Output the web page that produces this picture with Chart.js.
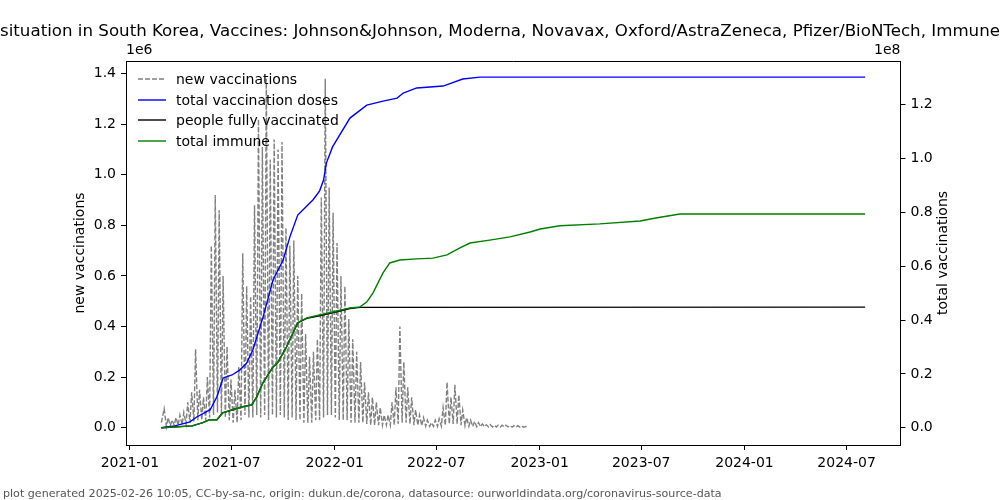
<!DOCTYPE html>
<html>
<head>
<meta charset="utf-8">
<style>
  html, body { margin: 0; padding: 0; background: #fff; }
  #wrap { width: 1000px; height: 500px; }
</style>
<script src="https://cdn.jsdelivr.net/npm/chart.js@4.4.1/dist/chart.umd.min.js"></script>
</head>
<body>
<div id="wrap"><canvas id="chart" width="1000" height="500"></canvas></div>
<script>
// ─── texts ──────────────────────────────────────────────────────────────────
const TITLE = 'situation in South Korea, Vaccines: Johnson&Johnson, Moderna, Novavax, Oxford/AstraZeneca, Pfizer/BioNTech, Immune';
const FOOTER = 'plot generated 2025-02-26 10:05, CC-by-sa-nc, origin: dukun.de/corona, datasource: ourworldindata.org/coronavirus-source-data';
const LABELS = ['new vaccinations', 'total vaccination doses', 'people fully vaccinated', 'total immune'];

// ─── ticks ──────────────────────────────────────────────────────────────────
const X_TICKS = ['2021-01', '2021-07', '2022-01', '2022-07', '2023-01', '2023-07', '2024-01', '2024-07'];
const LEFT_TICKS = [0, 0.2, 0.4, 0.6, 0.8, 1.0, 1.2, 1.4];   // x 1e6
const RIGHT_TICKS = [0, 0.2, 0.4, 0.6, 0.8, 1.0, 1.2];        // x 1e8

// ─── new vaccinations (x 1e6), one weekday high and one weekend low per week ─
const NEW_FIRST = ['2021-02-26', 0.02];
const NEW_WEEK_START = '2021-03-01';
const NEW_PEAK = [
  0.075, 0.04, 0.03, 0.04, 0.05, 0.06, 0.10, 0.14, 0.31, 0.15,
  0.12, 0.20, 0.72, 0.92, 0.86, 0.60, 0.32, 0.19, 0.15, 0.24,
  0.69, 0.56, 0.52, 0.88, 1.22, 1.11, 1.38, 1.06, 1.14, 1.10,
  1.13, 0.79, 0.72, 0.74, 0.60, 0.53, 0.37, 0.28, 0.30, 0.35,
  0.91, 1.38, 0.95, 0.85, 0.73, 0.60, 0.56, 0.43, 0.35, 0.30,
  0.26, 0.18, 0.14, 0.12, 0.10, 0.08, 0.05, 0.05, 0.10, 0.16,
  0.40, 0.26, 0.16, 0.12, 0.07, 0.05, 0.04, 0.03, 0.02, 0.03,
  0.035, 0.08, 0.18, 0.12, 0.17, 0.13, 0.07, 0.04, 0.03, 0.025,
  0.02, 0.015, 0.012, 0.012, 0.01, 0.01, 0.01, 0.01, 0.008, 0.008,
  0.008, 0.006, 0.005,
];
const NEW_LOW = [
  0.005, 0.008, 0.01, 0.01, 0.012, 0.015, 0.02, 0.025, 0.03, 0.03,
  0.03, 0.04, 0.05, 0.06, 0.05, 0.04, 0.03, 0.02, 0.02, 0.03,
  0.05, 0.04, 0.04, 0.05, 0.04, 0.05, 0.03, 0.05, 0.04, 0.05,
  0.04, 0.03, 0.04, 0.03, 0.03, 0.02, 0.02, 0.02, 0.03, 0.03,
  0.04, 0.05, 0.05, 0.04, 0.03, 0.03, 0.03, 0.02, 0.02, 0.02,
  0.02, 0.015, 0.01, 0.01, 0.01, 0.01, 0.01, 0.01, 0.01, 0.015,
  0.02, 0.02, 0.015, 0.01, 0.01, 0.008, 0.006, 0.005, 0.005, 0.005,
  0.006, 0.01, 0.015, 0.015, 0.015, 0.01, 0.008, 0.006, 0.005, 0.004,
  0.004, 0.004, 0.003, 0.003, 0.003, 0.003, 0.003, 0.003, 0.002, 0.002,
  0.002, 0.002, 0.002,
];

// ─── totals (x 1e8) ─────────────────────────────────────────────────────────
const DOSES_DATES = [
  '2021-02-26', '2021-03-22', '2021-04-18', '2021-04-30', '2021-05-24', '2021-06-05',
  '2021-06-16', '2021-07-02', '2021-07-16', '2021-07-28', '2021-08-08', '2021-08-26',
  '2021-09-13', '2021-10-01', '2021-10-13', '2021-10-27', '2021-11-23', '2021-12-05',
  '2021-12-12', '2021-12-17', '2021-12-28', '2022-01-28', '2022-02-27', '2022-03-28',
  '2022-04-22', '2022-05-03', '2022-05-27', '2022-07-13', '2022-08-17', '2022-09-17',
  '2023-03-13', '2024-08-03',
];
const DOSES = [
  0, 0.007, 0.022, 0.04, 0.067, 0.115,
  0.185, 0.196, 0.215, 0.24, 0.289, 0.41,
  0.549, 0.623, 0.709, 0.79, 0.846, 0.88,
  0.92, 0.983, 1.043, 1.15, 1.198, 1.213,
  1.224, 1.243, 1.262, 1.269, 1.295, 1.302,
  1.302, 1.302,
];

const IMMUNE_DATES = [
  '2021-02-26', '2021-04-22', '2021-05-11', '2021-05-23', '2021-06-05', '2021-06-15',
  '2021-07-03', '2021-07-21', '2021-08-06', '2021-08-15', '2021-08-26', '2021-09-13',
  '2021-09-21', '2021-10-07', '2021-10-27', '2021-11-12', '2021-12-05', '2021-12-28',
  '2022-01-28', '2022-02-15', '2022-02-27', '2022-03-10', '2022-03-19', '2022-03-28',
  '2022-04-09', '2022-04-27', '2022-05-27', '2022-06-25', '2022-07-20', '2022-08-12',
  '2022-08-30', '2022-10-04', '2022-11-09', '2022-12-15', '2023-01-02', '2023-02-06',
  '2023-04-18', '2023-06-29', '2023-07-27', '2023-09-08', '2024-08-03',
];
const IMMUNE = [
  0, 0.007, 0.019, 0.03, 0.03, 0.055,
  0.067, 0.078, 0.085, 0.115, 0.167, 0.226,
  0.241, 0.30, 0.39, 0.408, 0.419, 0.43,
  0.445, 0.449, 0.467, 0.50, 0.538, 0.575,
  0.612, 0.623, 0.627, 0.63, 0.642, 0.668,
  0.686, 0.697, 0.709, 0.727, 0.738, 0.75,
  0.757, 0.768, 0.779, 0.794, 0.794,
];

const FULLY_DATES = [
  '2021-02-26', '2021-04-22', '2021-05-11', '2021-05-23', '2021-06-05', '2021-06-15',
  '2021-07-03', '2021-07-21', '2021-08-06', '2021-08-15', '2021-08-26', '2021-09-13',
  '2021-09-21', '2021-10-07', '2021-10-27', '2021-11-12', '2021-12-05', '2021-12-28',
  '2022-01-28', '2022-02-15', '2024-08-03',
];
const FULLY = [
  0, 0.007, 0.019, 0.03, 0.03, 0.055,
  0.067, 0.078, 0.085, 0.115, 0.167, 0.226,
  0.241, 0.30, 0.39, 0.406, 0.416, 0.427,
  0.443, 0.447, 0.448,
];

// ─── build points ───────────────────────────────────────────────────────────
const DAY = 86400000;

function pts(dates, values) {
  return dates.map((d, i) => ({ x: Date.parse(d), y: values[i] }));
}

const newPoints = [{ x: Date.parse(NEW_FIRST[0]), y: NEW_FIRST[1] }];
const wk0 = Date.parse(NEW_WEEK_START);
NEW_PEAK.forEach((v, k) => {
  newPoints.push({ x: wk0 + (7 * k + 2) * DAY, y: v });
  newPoints.push({ x: wk0 + (7 * k + 6) * DAY, y: NEW_LOW[k] });
});

const COLORS = ['gray', 'blue', 'black', 'green'];

// ─── decorations: title, footer, axis titles, offsets, legend, top spine ────
const decor = {
  id: 'decor',
  afterDraw(chart) {
    const { ctx, chartArea: a } = chart;
    ctx.save();

    ctx.strokeStyle = '#000';
    ctx.lineWidth = 1;
    ctx.beginPath();
    ctx.moveTo(a.left, Math.round(a.top) + 0.5);
    ctx.lineTo(a.right, Math.round(a.top) + 0.5);
    ctx.stroke();

    ctx.fillStyle = '#000';
    ctx.textBaseline = 'middle';

    ctx.font = "16.67px 'DejaVu Sans'";
    ctx.textAlign = 'center';
    ctx.fillText(TITLE, 500, 32);

    ctx.font = "14px 'DejaVu Sans'";
    ctx.textAlign = 'left';
    ctx.fillText('1e6', a.left, 50);
    ctx.textAlign = 'right';
    ctx.fillText('1e8', a.right, 50);

    ctx.textAlign = 'center';
    ctx.save();
    ctx.translate(80, (a.top + a.bottom) / 2);
    ctx.rotate(-Math.PI / 2);
    ctx.fillText('new vaccinations', 0, 0);
    ctx.restore();
    ctx.save();
    ctx.translate(943, (a.top + a.bottom) / 2);
    ctx.rotate(-Math.PI / 2);
    ctx.fillText('total vaccinations', 0, 0);
    ctx.restore();

    // legend (inside, upper left, no frame)
    const rowY = [79, 100, 120, 141];
    LABELS.forEach((lab, i) => {
      ctx.strokeStyle = COLORS[i];
      ctx.lineWidth = 1.4;
      ctx.setLineDash(i === 0 ? [5, 2] : []);
      ctx.beginPath();
      ctx.moveTo(138, rowY[i]);
      ctx.lineTo(166, rowY[i]);
      ctx.stroke();
      ctx.setLineDash([]);
      ctx.fillStyle = '#000';
      ctx.textAlign = 'left';
      ctx.fillText(lab, 176, rowY[i] + 1);
    });

    ctx.font = "11.1px 'DejaVu Sans'";
    ctx.fillStyle = '#555';
    ctx.textAlign = 'left';
    ctx.fillText(FOOTER, 3, 494);

    ctx.restore();
  },
};

Chart.defaults.font.family = "'DejaVu Sans', sans-serif";
Chart.defaults.font.size = 14;
Chart.defaults.color = '#000';

const axisGrid = { drawOnChartArea: false, drawTicks: true, tickLength: 5, color: '#000' };

new Chart(document.getElementById('chart'), {
  type: 'line',
  data: {
    datasets: [
      { label: LABELS[0], data: newPoints, yAxisID: 'y', borderColor: COLORS[0], borderWidth: 1.4, borderDash: [5, 2], order: 4 },
      { label: LABELS[1], data: pts(DOSES_DATES, DOSES), yAxisID: 'y2', borderColor: COLORS[1], borderWidth: 1.4, order: 3 },
      { label: LABELS[2], data: pts(FULLY_DATES, FULLY), yAxisID: 'y2', borderColor: COLORS[2], borderWidth: 1.4, order: 2 },
      { label: LABELS[3], data: pts(IMMUNE_DATES, IMMUNE), yAxisID: 'y2', borderColor: COLORS[3], borderWidth: 1.4, order: 1 },
    ],
  },
  options: {
    responsive: false,
    animation: false,
    devicePixelRatio: 1,
    elements: { point: { radius: 0 }, line: { tension: 0, fill: false } },
    layout: { padding: { top: 61, left: 0, right: 0, bottom: 0 } },
    plugins: { legend: { display: false }, tooltip: { enabled: false }, title: { display: false } },
    scales: {
      x: {
        type: 'linear',
        min: Date.parse('2020-12-25'),
        max: Date.parse('2024-10-05'),
        afterBuildTicks: (s) => { s.ticks = X_TICKS.map((l) => ({ value: Date.parse(l + '-01') })); },
        afterFit: (s) => { s.height = 55; },
        ticks: {
          callback: (v) => new Date(v).toISOString().slice(0, 7),
          maxRotation: 0, autoSkip: false, padding: 5,
        },
        grid: axisGrid,
        border: { color: '#000' },
      },
      y: {
        position: 'left',
        min: -0.0684,
        max: 1.450,
        afterBuildTicks: (s) => { s.ticks = LEFT_TICKS.map((v) => ({ value: v })); },
        afterFit: (s) => { s.width = 126; },
        ticks: { callback: (v) => v.toFixed(1), padding: 5 },
        grid: axisGrid,
        border: { color: '#000' },
      },
      y2: {
        position: 'right',
        min: -0.064,
        max: 1.362,
        afterBuildTicks: (s) => { s.ticks = RIGHT_TICKS.map((v) => ({ value: v })); },
        afterFit: (s) => { s.width = 99.5; },
        ticks: { callback: (v) => v.toFixed(1), padding: 5 },
        grid: axisGrid,
        border: { color: '#000' },
      },
    },
  },
  plugins: [decor],
});
</script>
</body>
</html>
